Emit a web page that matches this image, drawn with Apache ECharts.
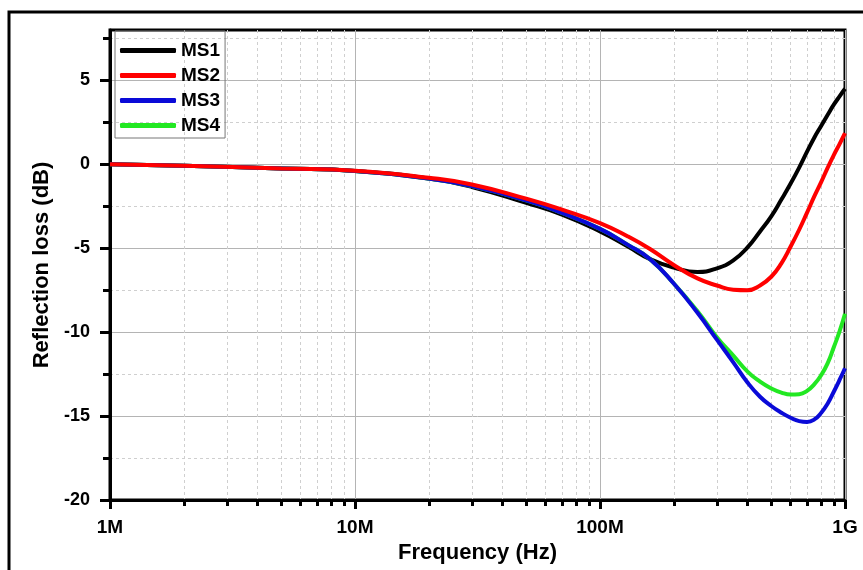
<!DOCTYPE html>
<html>
<head>
<meta charset="utf-8">
<script src="https://cdn.jsdelivr.net/npm/echarts@6/dist/echarts.min.js"></script>
<style>
html,body{margin:0;padding:0;background:#fff;}
#chart{width:863px;height:570px;}
</style>
</head>
<body>
<div id="chart"></div>
<script>
// frequencies in MHz
const freqMHz = [1, 2, 5, 10, 20, 30, 50, 70, 100, 130, 160, 200, 250, 300, 350, 400, 450, 500, 550, 600, 650, 700, 750, 800, 850, 900, 950, 1000]
const ms1 = [0, -0.08, -0.25, -0.4, -0.85, -1.35, -2.3, -3.0, -4.0, -4.9, -5.65, -6.15, -6.42, -6.2, -5.72, -4.95, -4.0, -3.1, -2.1, -1.15, -0.2, 0.75, 1.6, 2.3, 2.95, 3.55, 4.05, 4.5]
const ms2 = [0, -0.08, -0.25, -0.38, -0.8, -1.2, -2.05, -2.7, -3.5, -4.3, -5.05, -6.0, -6.8, -7.22, -7.47, -7.5, -7.22, -6.7, -5.9, -4.9, -3.9, -2.88, -1.9, -1.05, -0.2, 0.55, 1.2, 1.85]
const ms3 = [0, -0.08, -0.25, -0.4, -0.85, -1.3, -2.15, -2.9, -3.85, -4.8, -5.65, -7.1, -8.85, -10.45, -11.8, -13.0, -13.85, -14.4, -14.8, -15.1, -15.3, -15.35, -15.2, -14.8, -14.25, -13.55, -12.85, -12.15]
const ms4 = [0, -0.08, -0.25, -0.4, -0.85, -1.3, -2.15, -2.9, -3.85, -4.8, -5.65, -7.1, -8.75, -10.3, -11.4, -12.35, -12.95, -13.35, -13.6, -13.72, -13.7, -13.5, -13.1, -12.55, -11.85, -10.9, -9.95, -8.9]

const seriesNames = ['MS1', 'MS2', 'MS3', 'MS4']
const seriesColors = ['#000000', '#ff0000', '#0a0ad8', '#22e822']
const seriesZ = [2, 5, 4, 3]
const seriesData = [ms1, ms2, ms3, ms4]

const xMajor = [1e6, 1e7, 1e8, 1e9]
const xMajorLabels = {1e6: '1M', 1e7: '10M', 1e8: '100M', 1e9: '1G'}
const xMinor = []
for (let d = 1e6; d < 1e9; d *= 10)
	for (let k = 2; k <= 9; k++) xMinor.push(k * d)
const yMajor = [-20, -15, -10, -5, 0, 5]
const yMinor = [-17.5, -12.5, -7.5, -2.5, 2.5, 7.5]

const font = "'Liberation Sans', Arial, sans-serif"

let myChart = echarts.init(document.getElementById('chart'))
let option = {
	animation: false,
	backgroundColor: '#fff',
	graphic: [{
		type: 'rect',
		shape: {x: 9, y: 12, width: 900, height: 600},
		style: {fill: 'none', stroke: '#000', lineWidth: 3},
		silent: true
	}],
	grid: {
		left: 110, top: 30, right: 18, bottom: 70,
		show: true, borderColor: '#000', borderWidth: 3
	},
	legend: {
		data: seriesNames,
		orient: 'vertical',
		left: 115, top: 31,
		padding: [10, 5, 3, 5],
		itemGap: 6,
		itemWidth: 56,
		itemHeight: 5,
		icon: 'roundRect',
		borderColor: '#777',
		borderWidth: 1,
		textStyle: {fontFamily: font, fontWeight: 'bold', fontSize: 19, color: '#000'}
	},
	xAxis: [{
		type: 'log',
		min: 1e6, max: 1e9,
		position: 'bottom',
		name: 'Frequency (Hz)',
		nameLocation: 'middle',
		nameGap: 40,
		nameTextStyle: {fontFamily: font, fontWeight: 'bold', fontSize: 22, color: '#000'},
		axisLine: {onZero: false, lineStyle: {color: '#000', width: 3}},
		axisTick: {customValues: xMajor, length: 9, lineStyle: {color: '#000', width: 3}},
		axisLabel: {
			customValues: xMajor, margin: 18,
			fontFamily: font, fontWeight: 'bold', fontSize: 19, color: '#000',
			formatter: v => xMajorLabels[v] || ''
		},
		splitLine: {show: true, lineStyle: {color: '#b4b4b4', width: 1}}
	}, {
		type: 'log',
		min: 1e6, max: 1e9,
		position: 'bottom',
		axisLine: {show: false, onZero: false},
		axisLabel: {show: false},
		axisTick: {customValues: xMinor, length: 6, lineStyle: {color: '#000', width: 3}},
		splitLine: {show: true, lineStyle: {color: '#cfcfcf', width: 1, type: [3, 3]}}
	}],
	yAxis: [{
		type: 'value',
		min: -20, max: 8,
		position: 'left',
		name: 'Reflection loss (dB)',
		nameLocation: 'middle',
		nameGap: 55,
		nameTextStyle: {fontFamily: font, fontWeight: 'bold', fontSize: 22, color: '#000'},
		axisLine: {show: true, onZero: false, lineStyle: {color: '#000', width: 3}},
		axisTick: {customValues: yMajor, length: 10, lineStyle: {color: '#000', width: 3}},
		axisLabel: {
			customValues: yMajor, margin: 20,
			fontFamily: font, fontWeight: 'bold', fontSize: 18, color: '#000'
		},
		splitLine: {show: true, lineStyle: {color: '#b4b4b4', width: 1}}
	}, {
		type: 'value',
		min: -20, max: 8,
		position: 'left',
		axisLine: {show: false, onZero: false},
		axisLabel: {show: false},
		axisTick: {show: true, customValues: yMinor, length: 7, lineStyle: {color: '#000', width: 3}},
		splitLine: {show: true, lineStyle: {color: '#cfcfcf', width: 1, type: [3, 3]}}
	}],
	series: seriesNames.map((name, i) => {
		return {
			name: name,
			type: 'line',
			xAxisIndex: 0,
			yAxisIndex: 0,
			smooth: 0.5,
			symbol: 'none',
			z: seriesZ[i],
			color: seriesColors[i],
			lineStyle: {width: 4, color: seriesColors[i]},
			data: freqMHz.map((f, j) => [f * 1e6, seriesData[i][j]])
		}
	})
}
myChart.setOption(option)
</script>
</body>
</html>
